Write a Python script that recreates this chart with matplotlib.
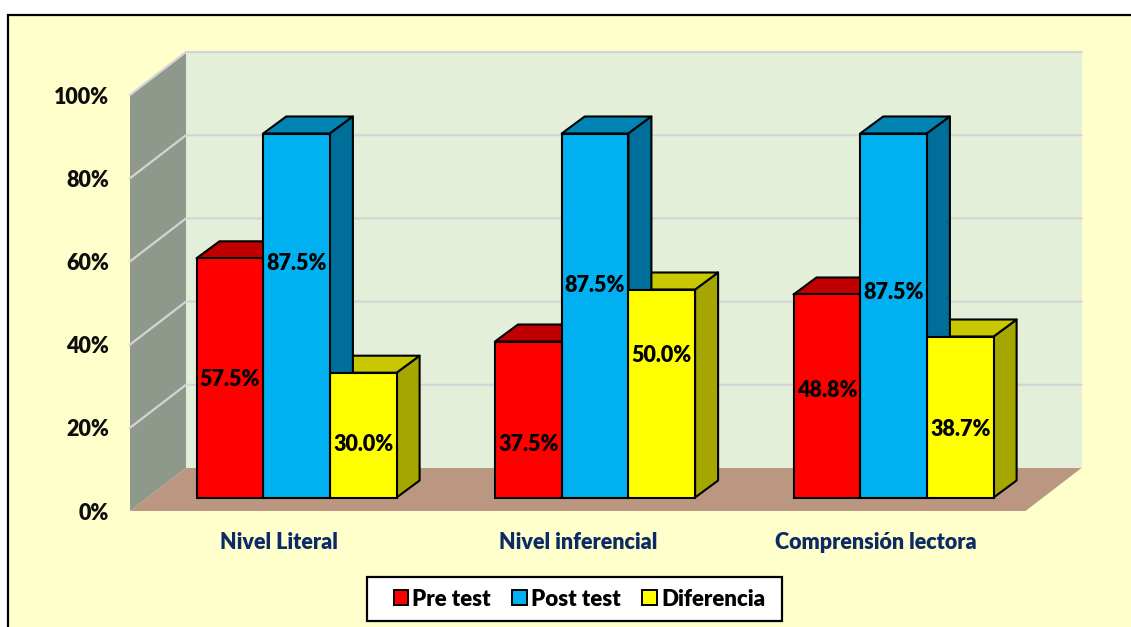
import matplotlib
matplotlib.use("Agg")
import matplotlib.pyplot as plt
from matplotlib.patches import Polygon, Rectangle, Patch

categories = ["Nivel Literal", "Nivel inferencial", "Comprensión lectora"]
series_names = ["Pre test", "Post test", "Diferencia"]
pre_test = [57.5, 37.5, 48.8]
post_test = [87.5, 87.5, 87.5]
diferencia = [30.0, 50.0, 38.7]
y_ticks = [0, 20, 40, 60, 80, 100]
# hand-placed label heights of the original (percent axis)
label_y = {"Pre test": [31.5, 16.0, 29.0],
           "Post test": [59.5, 54.3, 52.6],
           "Diferencia": [16.0, 37.5, 19.6]}

W, H = 1131, 627
PX_X = 298.5            # pixels per category
PX_Y = 4.16             # pixels per percent
faces = [("#FF0000", "#C00000", "#C00000"),
         ("#00B0F0", "#0084B4", "#006E9A"),
         ("#FFFF00", "#C8C800", "#A6A600")]
series = [pre_test, post_test, diferencia]
WEIGHT = "heavy"

plt.rcParams["font.family"] = ["Lato", "DejaVu Sans"]
plt.rcParams["font.weight"] = WEIGHT
fig = plt.figure(figsize=(W / 100, H / 100), dpi=100, facecolor="white")
fig.add_artist(Rectangle((8 / W, -0.02), 1.1, 1 - 15 / H + 0.02, transform=fig.transFigure,
                         fc="#FFFFCC", ec="black", lw=1.6, zorder=-5))

ax = fig.add_axes([130 / W, 1 - 511 / H, 895.5 / W, 416 / H])
ax.set_xlim(-0.5, 2.5)
ax.set_ylim(0, 100)
ax.patch.set_visible(False)
for s in ax.spines.values():
    s.set_visible(False)

# 3D wall offset in data units
wx, wy = 56 / PX_X, 43 / PX_Y
x0, x1 = -0.5, 2.5
ax.add_patch(Polygon([(x0 + wx, wy), (x1 + wx, wy), (x1 + wx, 100 + wy), (x0 + wx, 100 + wy)],
                     fc="#E3EFD9", ec="none", zorder=1, clip_on=False))
ax.add_patch(Polygon([(x0, 0), (x0 + wx, wy), (x0 + wx, 100 + wy), (x0, 100)],
                     fc="#8F998B", ec="none", zorder=1, clip_on=False))
ax.add_patch(Polygon([(x0, 0), (x1, 0), (x1 + wx, wy), (x0 + wx, wy)],
                     fc="#BB9781", ec="none", zorder=1, clip_on=False))
for t in y_ticks[1:]:
    ax.plot([x0, x0 + wx, x1 + wx], [t, t + wy, t + wy], color="#D4D4D8", lw=1.6,
            zorder=2, clip_on=False, solid_joinstyle="miter")

# bars
bw = 66.7 / PX_X
bar_shift_x, bar_shift_y = 17.3 / PX_X, 13.5 / PX_Y
dx, dy = 23 / PX_X, 17 / PX_Y
order = [(c, k) for c in range(len(categories)) for k in (2, 1, 0)]
for c, k in order:
    v = series[k][c]
    left = c + bar_shift_x + (k - 1.5) * bw
    right = left + bw
    b = bar_shift_y
    t = b + v
    front, top, side = faces[k]
    kw = dict(ec="black", lw=1.5, joinstyle="round", clip_on=False)
    ax.add_patch(Polygon([(right, b), (right + dx, b + dy), (right + dx, t + dy), (right, t)],
                         fc=side, zorder=4 + (k == 1) * 0.2, **kw))
    ax.add_patch(Polygon([(left, t), (right, t), (right + dx, t + dy), (left + dx, t + dy)],
                         fc=top, zorder=4 + (k == 1) * 0.1, **kw))
for c, k in order:
    v = series[k][c]
    left = c + bar_shift_x + (k - 1.5) * bw
    ax.add_patch(Rectangle((left, bar_shift_y), bw, v, fc=faces[k][0], ec="black", lw=1.5,
                           zorder=5, clip_on=False))
    ax.text(left + bw / 2, label_y[series_names[k]][c], f"{v:.1f}%", ha="center", va="center",
            fontsize=15.5, color="black", zorder=6, fontweight=WEIGHT)

ax.set_yticks(y_ticks, [f"{t}%" for t in y_ticks], fontsize=15.5, fontweight=WEIGHT, color="#0D0D0D")
ax.set_xticks(range(3), categories, fontsize=15.5, fontweight=WEIGHT, color="#0C2A66")
ax.tick_params(axis="y", length=0, pad=15)
ax.tick_params(axis="x", length=0, pad=15)

fig.add_artist(Rectangle((367 / W, 1 - 621 / H), 415 / W, 44 / H, transform=fig.transFigure,
                         fc="white", ec="black", lw=1.6, zorder=8))
handles = [Patch(fc=faces[i][0], ec="black", lw=1.4, label=series_names[i]) for i in range(3)]
leg = fig.legend(handles=handles, loc="center", bbox_to_anchor=(579.5 / W, 1 - 599 / H), ncol=3,
                 frameon=False, fontsize=16, handlelength=0.65, handleheight=0.65,
                 handletextpad=0.2, columnspacing=0.96, borderpad=0, borderaxespad=0)
leg.set_zorder(9)
for txt in leg.get_texts():
    txt.set_fontweight(WEIGHT)

fig.savefig("out.png", dpi=100)
